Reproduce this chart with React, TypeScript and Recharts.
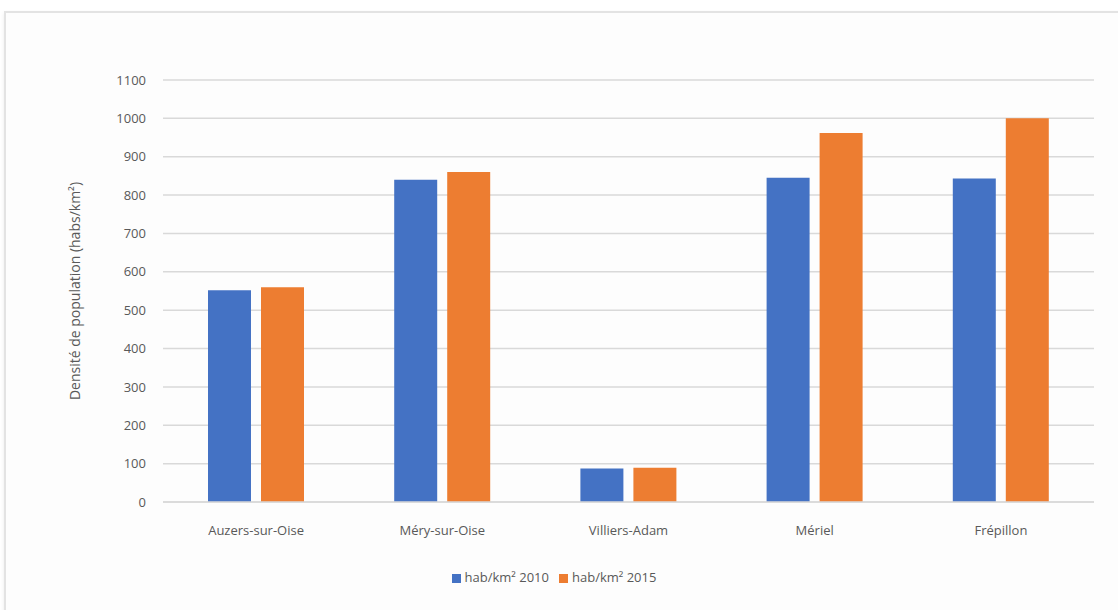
import React from "react";
import { BarChart, Bar, XAxis, YAxis, CartesianGrid, Legend } from "recharts";

const communes = ["Auzers-sur-Oise", "Méry-sur-Oise", "Villiers-Adam", "Mériel", "Frépillon"];
const dens2010 = [552, 840, 87, 845, 843];
const dens2015 = [560, 860, 89, 962, 1000];
const yTicks = [0, 100, 200, 300, 400, 500, 600, 700, 800, 900, 1000, 1100];
const label2010 = "hab/km² 2010";
const label2015 = "hab/km² 2015";

const data = communes.map((c, i) => ({ name: c, a: dens2010[i], b: dens2015[i] }));

const FONT = "'Open Sans', 'Liberation Sans', sans-serif";
const GREY = "#595959";

export default function App() {
  return (
    <div style={{ position: "absolute", left: 0, top: 0, width: 1118, height: 610, background: "#ffffff", overflow: "hidden", fontFamily: FONT }}>
      <div style={{ position: "absolute", left: 4, top: 11, width: 1130, height: 620, border: "2px solid #e3e3e3", background: "#fdfdfd", boxShadow: "0 2px 4px rgba(0,0,0,0.08)" }} />
      <div style={{ position: "absolute", left: 0, top: 0 }}>
        <BarChart width={1118} height={610} data={data} margin={{ top: 80, right: 24, left: 73, bottom: 78 }} barSize={43} barGap={10}>
          <CartesianGrid vertical={false} stroke="#d9d9d9" strokeWidth={1.5} />
          <XAxis dataKey="name" height={30} axisLine={{ stroke: "#d9d9d9", strokeWidth: 1.5 }} tickLine={false} tickSize={0} tickMargin={24} tick={{ fill: GREY, fontSize: 13, fontFamily: FONT }} interval={0} />
          <YAxis width={90} domain={[0, 1100]} ticks={yTicks} interval={0} axisLine={false} tickLine={false} tickSize={0} tickMargin={17} tick={{ fill: GREY, fontSize: 13, fontFamily: FONT }}
            label={{ value: "Densité de population (habs/km²)", angle: -90, position: "insideLeft", offset: 2, style: { fill: GREY, fontSize: 14, fontFamily: FONT, textAnchor: "middle" } }} />
          <Legend verticalAlign="middle" align="center" layout="horizontal" iconType="square" iconSize={9}
            wrapperStyle={{ position: "absolute", top: 568, left: 0, width: 1118, fontSize: 13, fontFamily: FONT }}
            formatter={(v: string) => <span style={{ color: GREY }}>{v}</span>} />
          <Bar dataKey="a" name={label2010} fill="#4472C4" isAnimationActive={false} />
          <Bar dataKey="b" name={label2015} fill="#ED7D31" isAnimationActive={false} />
        </BarChart>
      </div>
    </div>
  );
}
